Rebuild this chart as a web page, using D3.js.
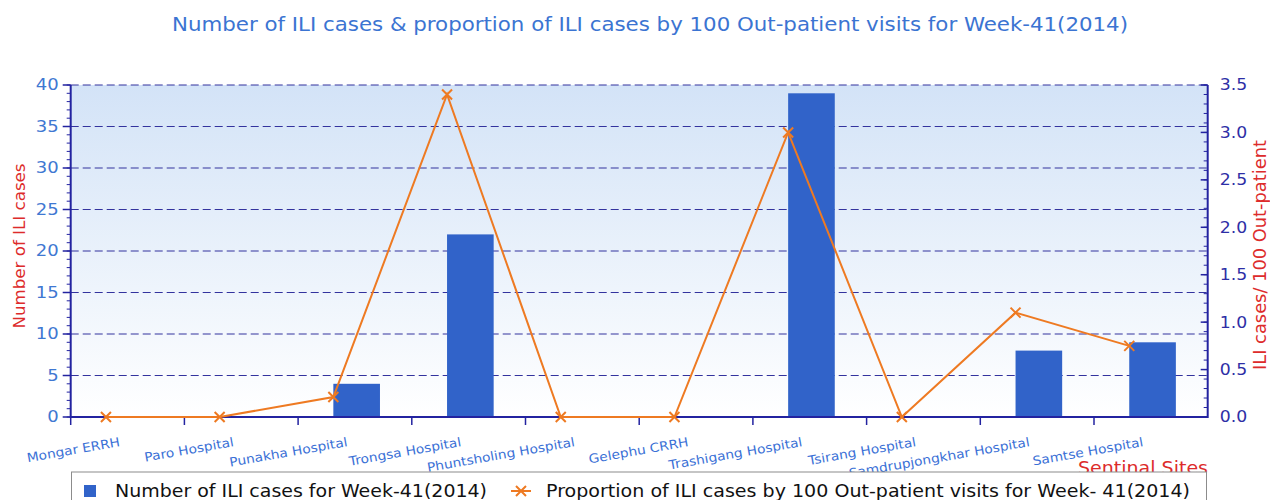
<!DOCTYPE html>
<html>
<head>
<meta charset="utf-8">
<script src="https://cdn.jsdelivr.net/npm/d3@7"></script>
<style>
  body { margin: 0; background: #fff; }
  svg text { font-family: "DejaVu Sans", sans-serif; }
</style>
</head>
<body>
<svg id="chart" width="1270" height="500"></svg>
<script>

// Chart data
var sites = ["Mongar ERRH", "Paro Hospital", "Punakha Hospital", "Trongsa Hospital",
    "Phuntsholing Hospital", "Gelephu CRRH", "Trashigang Hospital", "Tsirang Hospital",
    "Samdrupjongkhar Hospital", "Samtse Hospital"];
var iliCases = [0, 0, 4, 22, 0, 0, 39, 0, 8, 9];
var iliProportion = [0, 0, 0.21, 3.4, 0, 0, 3.0, 0, 1.1, 0.75];
var leftTicks = [0, 5, 10, 15, 20, 25, 30, 35, 40];
var rightTicks = [0, 0.5, 1.0, 1.5, 2.0, 2.5, 3.0, 3.5];

var titleText = "Number of ILI cases & proportion of ILI cases by 100 Out-patient visits for Week-41(2014)";
var leftLabel = "Number of ILI cases";
var rightLabel = "ILI cases/ 100 Out-patient";
var xLabel = "Sentinal Sites";
var barLegend = "Number of ILI cases for Week-41(2014)";
var lineLegend = "Proportion of ILI cases by 100 Out-patient visits for Week- 41(2014)";


//*************************************************//
// Layout
//*************************************************//
var svg = d3.select("#chart");
var plot = {left: 70.7, right: 1207.7, top: 85, bottom: 417};

var axisColor = "#2323a0";
var barColor = "#3163c9";
var lineColor = "#ee7a22";
var redText = "#dd2b2b";

// Widen text a little: the original font runs wider than DejaVu Sans
var stretch = function(sel, k) {
    sel.each(function() {
        var w = this.getComputedTextLength();
        d3.select(this)
            .attr("textLength", w * k)
            .attr("lengthAdjust", "spacingAndGlyphs");
    });
};

// Scales
var x = d3.scaleBand().domain(sites).range([plot.left, plot.right]);
var yLeft = d3.scaleLinear().domain([0, 40]).range([plot.bottom, plot.top]);
var yRight = d3.scaleLinear().domain([0, 3.5]).range([plot.bottom, plot.top]);

var bw = x.bandwidth();
var barOffset = bw * 0.31;
var barWidth = bw * 0.41;

// Background gradient
var defs = svg.append("defs");
var grad = defs.append("linearGradient")
    .attr("id", "bg")
    .attr("x1", 0).attr("y1", 0).attr("x2", 0).attr("y2", 1);
grad.append("stop").attr("offset", "0%").attr("stop-color", "#d3e3f7");
grad.append("stop").attr("offset", "100%").attr("stop-color", "#ffffff");

svg.append("rect")
    .attr("x", plot.left)
    .attr("y", plot.top)
    .attr("width", plot.right - plot.left)
    .attr("height", plot.bottom - plot.top)
    .attr("fill", "url(#bg)");

// Title
svg.append("text")
    .attr("x", 650)
    .attr("y", 31)
    .attr("text-anchor", "middle")
    .attr("font-size", "19px")
    .style("font-family", "'DejaVu Sans Condensed', 'DejaVu Sans', sans-serif")
    .attr("fill", "#3b74d2")
    .attr("textLength", 956)
    .attr("lengthAdjust", "spacingAndGlyphs")
    .text(titleText);

// Grid lines
svg.append("g")
    .selectAll("line")
    .data(leftTicks.filter(function(d) { return d > 0; }))
    .enter().append("line")
    .attr("x1", plot.left)
    .attr("x2", plot.right)
    .attr("y1", function(d) { return yLeft(d); })
    .attr("y2", function(d) { return yLeft(d); })
    .attr("stroke", "#33339e")
    .attr("stroke-width", 1.2)
    .attr("stroke-dasharray", "8,4");

// Bars
svg.append("g")
    .selectAll("rect")
    .data(sites)
    .enter().append("rect")
    .attr("x", function(d) { return x(d) + barOffset; })
    .attr("width", barWidth)
    .attr("y", function(d, i) { return yLeft(iliCases[i]); })
    .attr("height", function(d, i) { return plot.bottom - yLeft(iliCases[i]); })
    .attr("fill", barColor);

// Left axis
var leftAxis = svg.append("g");
leftAxis.append("line")
    .attr("x1", plot.left).attr("x2", plot.left)
    .attr("y1", plot.top).attr("y2", plot.bottom + 1)
    .attr("stroke", axisColor).attr("stroke-width", 2);
leftAxis.selectAll(".minor")
    .data(d3.range(0, 41))
    .enter().append("line")
    .attr("x1", plot.left - 4).attr("x2", plot.left)
    .attr("y1", function(d) { return yLeft(d); })
    .attr("y2", function(d) { return yLeft(d); })
    .attr("stroke", axisColor).attr("stroke-width", 1);
leftAxis.selectAll(".major")
    .data(leftTicks)
    .enter().append("line")
    .attr("x1", plot.left - 8).attr("x2", plot.left)
    .attr("y1", function(d) { return yLeft(d); })
    .attr("y2", function(d) { return yLeft(d); })
    .attr("stroke", axisColor).attr("stroke-width", 1.5);
leftAxis.selectAll("text")
    .data(leftTicks)
    .enter().append("text")
    .attr("x", plot.left - 12)
    .attr("y", function(d) { return yLeft(d); })
    .attr("dy", "0.36em")
    .attr("text-anchor", "end")
    .attr("font-size", "15px")
    .attr("fill", "#3f78d2")
    .text(function(d) { return d; })
    .call(stretch, 1.2);

// Right axis
var rightAxis = svg.append("g");
rightAxis.append("line")
    .attr("x1", plot.right).attr("x2", plot.right)
    .attr("y1", plot.top).attr("y2", plot.bottom + 1)
    .attr("stroke", axisColor).attr("stroke-width", 2);
rightAxis.selectAll(".minor")
    .data(d3.range(0, 36).map(function(d) { return d / 10; }))
    .enter().append("line")
    .attr("x1", plot.right - 4).attr("x2", plot.right)
    .attr("y1", function(d) { return yRight(d); })
    .attr("y2", function(d) { return yRight(d); })
    .attr("stroke", axisColor).attr("stroke-width", 1);
rightAxis.selectAll(".major")
    .data(rightTicks)
    .enter().append("line")
    .attr("x1", plot.right - 7).attr("x2", plot.right)
    .attr("y1", function(d) { return yRight(d); })
    .attr("y2", function(d) { return yRight(d); })
    .attr("stroke", axisColor).attr("stroke-width", 1.5);
rightAxis.selectAll("text")
    .data(rightTicks)
    .enter().append("text")
    .attr("x", plot.right + 12)
    .attr("y", function(d) { return yRight(d); })
    .attr("dy", "0.36em")
    .attr("font-size", "15px")
    .attr("fill", "#2e2ea6")
    .text(function(d) { return d3.format(".1f")(d); })
    .call(stretch, 1.15);

// Bottom axis
var bottomAxis = svg.append("g");
bottomAxis.append("line")
    .attr("x1", plot.left).attr("x2", plot.right)
    .attr("y1", plot.bottom).attr("y2", plot.bottom)
    .attr("stroke", axisColor).attr("stroke-width", 2);
bottomAxis.selectAll(".tick")
    .data(sites)
    .enter().append("line")
    .attr("x1", function(d) { return x(d); })
    .attr("x2", function(d) { return x(d); })
    .attr("y1", plot.bottom)
    .attr("y2", plot.bottom + 8)
    .attr("stroke", axisColor).attr("stroke-width", 1.5);

// Category labels (rotated)
bottomAxis.selectAll("text")
    .data(sites)
    .enter().append("text")
    .attr("transform", function(d) {
        return "translate(" + (x(d) + bw / 2 - 7) + ",446) rotate(-10)";
    })
    .attr("text-anchor", "end")
    .attr("font-size", "12.5px")
    .attr("fill", "#3a70d6")
    .text(function(d) { return d; })
    .call(stretch, 1.1);

// Line series
var line = d3.line()
    .x(function(d, i) { return x(sites[i]) + barOffset; })
    .y(function(d) { return yRight(d); });

svg.append("path")
    .datum(iliProportion)
    .attr("d", line)
    .attr("fill", "none")
    .attr("stroke", lineColor)
    .attr("stroke-width", 2);

// X markers
var markerPath = "M-5,-5L5,5M-5,5L5,-5";
svg.append("g")
    .selectAll("path")
    .data(iliProportion)
    .enter().append("path")
    .attr("transform", function(d, i) {
        return "translate(" + (x(sites[i]) + barOffset) + "," + yRight(d) + ")";
    })
    .attr("d", markerPath)
    .attr("stroke", lineColor)
    .attr("stroke-width", 2);

// Axis titles
svg.append("text")
    .attr("transform", "translate(25,246) rotate(-90)")
    .attr("text-anchor", "middle")
    .attr("font-size", "16px")
    .attr("fill", redText)
    .attr("textLength", 165)
    .attr("lengthAdjust", "spacingAndGlyphs")
    .text(leftLabel);

svg.append("text")
    .attr("transform", "translate(1266,255) rotate(-90)")
    .attr("text-anchor", "middle")
    .attr("font-size", "17px")
    .attr("fill", redText)
    .attr("textLength", 230)
    .attr("lengthAdjust", "spacingAndGlyphs")
    .text(rightLabel);

svg.append("text")
    .attr("x", 1208)
    .attr("y", 474)
    .attr("text-anchor", "end")
    .attr("font-size", "17px")
    .attr("fill", redText)
    .attr("textLength", 130)
    .attr("lengthAdjust", "spacingAndGlyphs")
    .text(xLabel);

// Legend
var legend = svg.append("g");
legend.append("rect")
    .attr("x", 71.5)
    .attr("y", 472)
    .attr("width", 1135)
    .attr("height", 40)
    .attr("fill", "#ffffff")
    .attr("stroke", "#8c8c8c")
    .attr("stroke-width", 1);

legend.append("rect")
    .attr("x", 84)
    .attr("y", 485)
    .attr("width", 12)
    .attr("height", 12)
    .attr("fill", barColor);

legend.append("text")
    .attr("x", 115)
    .attr("y", 497)
    .attr("font-size", "18px")
    .attr("fill", "#111")
    .attr("textLength", 372)
    .attr("lengthAdjust", "spacingAndGlyphs")
    .text(barLegend);

legend.append("line")
    .attr("x1", 511).attr("x2", 531)
    .attr("y1", 491).attr("y2", 491)
    .attr("stroke", lineColor).attr("stroke-width", 2);

legend.append("path")
    .attr("transform", "translate(521,491)")
    .attr("d", markerPath)
    .attr("stroke", lineColor)
    .attr("stroke-width", 2);

legend.append("text")
    .attr("x", 546)
    .attr("y", 497)
    .attr("font-size", "18px")
    .attr("fill", "#111")
    .attr("textLength", 644)
    .attr("lengthAdjust", "spacingAndGlyphs")
    .text(lineLegend);

</script>
</body>
</html>
